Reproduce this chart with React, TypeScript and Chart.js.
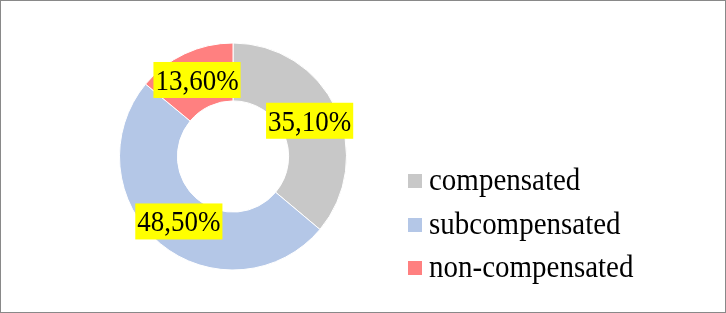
import React, { useEffect, useRef } from "react";
import { Chart, registerables } from "chart.js";

Chart.register(...registerables);

// Compensation status of the group, in percent
const categories = ["compensated", "subcompensated", "non-compensated"];
const shares = [35.1, 48.5, 13.6];
const sliceColors = ["#C8C8C8", "#B4C7E7", "#FF8080"];

const SERIF = '"Liberation Serif", "Times New Roman", serif';
const W = 724;
const H = 311;

const fmtPercent = (v: number) => v.toFixed(2).replace(".", ",") + "%";

// Draws text slightly condensed so glyphs are tall but keep their width
function condensedText(ctx: CanvasRenderingContext2D, text: string, x: number, y: number, sx: number) {
  ctx.save();
  ctx.translate(x, y);
  ctx.scale(sx, 1);
  ctx.fillText(text, 0, 0);
  ctx.restore();
}

// Yellow boxed percentage labels placed at each arc's centroid
const valueLabels = {
  id: "valueLabels",
  afterDatasetsDraw(chart: any) {
    const ctx = chart.ctx;
    const meta = chart.getDatasetMeta(0);
    const sx = 0.93;
    ctx.save();
    ctx.font = `29px ${SERIF}`;
    ctx.textAlign = "center";
    ctx.textBaseline = "alphabetic";
    meta.data.forEach((arc: any, i: number) => {
      const { x, y } = arc.getCenterPoint();
      const text = fmtPercent(shares[i]);
      const tw = ctx.measureText(text).width * sx;
      const bw = tw + 4;
      const bh = 36;
      ctx.fillStyle = "#FFFF00";
      ctx.fillRect(x - bw / 2, y - bh / 2, bw, bh);
      ctx.fillStyle = "#000000";
      condensedText(ctx, text, x, y + 10, sx);
    });
    ctx.restore();
  },
};

// Legend column to the right of the ring
const sideLegend = {
  id: "sideLegend",
  afterDraw(chart: any) {
    const ctx = chart.ctx;
    ctx.save();
    ctx.font = `31px ${SERIF}`;
    ctx.textAlign = "left";
    ctx.textBaseline = "alphabetic";
    categories.forEach((name, i) => {
      const top = Math.round(173 + i * 43.7);
      ctx.fillStyle = sliceColors[i];
      ctx.fillRect(407, top, 14, 14);
      ctx.fillStyle = "#000000";
      condensedText(ctx, name, 428, top + 16, 0.935);
    });
    ctx.restore();
  },
};

export default function App() {
  const canvasRef = useRef<HTMLCanvasElement | null>(null);

  useEffect(() => {
    if (!canvasRef.current) return;
    const chart = new Chart(canvasRef.current, {
      type: "doughnut",
      data: {
        labels: categories,
        datasets: [
          {
            data: shares,
            backgroundColor: sliceColors,
            hoverBackgroundColor: sliceColors,
            borderColor: "#FFFFFF",
            borderWidth: 1,
            hoverBorderWidth: 1,
            hoverOffset: 0,
          },
        ],
      },
      options: {
        responsive: false,
        animation: false,
        cutout: "49%",
        layout: {
          padding: { left: 118, right: 378, top: 41.5, bottom: 41.5 },
        },
        plugins: {
          legend: { display: false },
          tooltip: { enabled: false },
        },
        events: [],
      },
      plugins: [valueLabels, sideLegend],
    });
    return () => chart.destroy();
  }, []);

  return (
    <div
      style={{
        position: "fixed",
        left: 0,
        top: 0,
        width: 726,
        height: 313,
        boxSizing: "border-box",
        border: "1px solid #898989",
        background: "#FFFFFF",
      }}
    >
      <canvas ref={canvasRef} width={W} height={H} style={{ display: "block" }} />
    </div>
  );
}
